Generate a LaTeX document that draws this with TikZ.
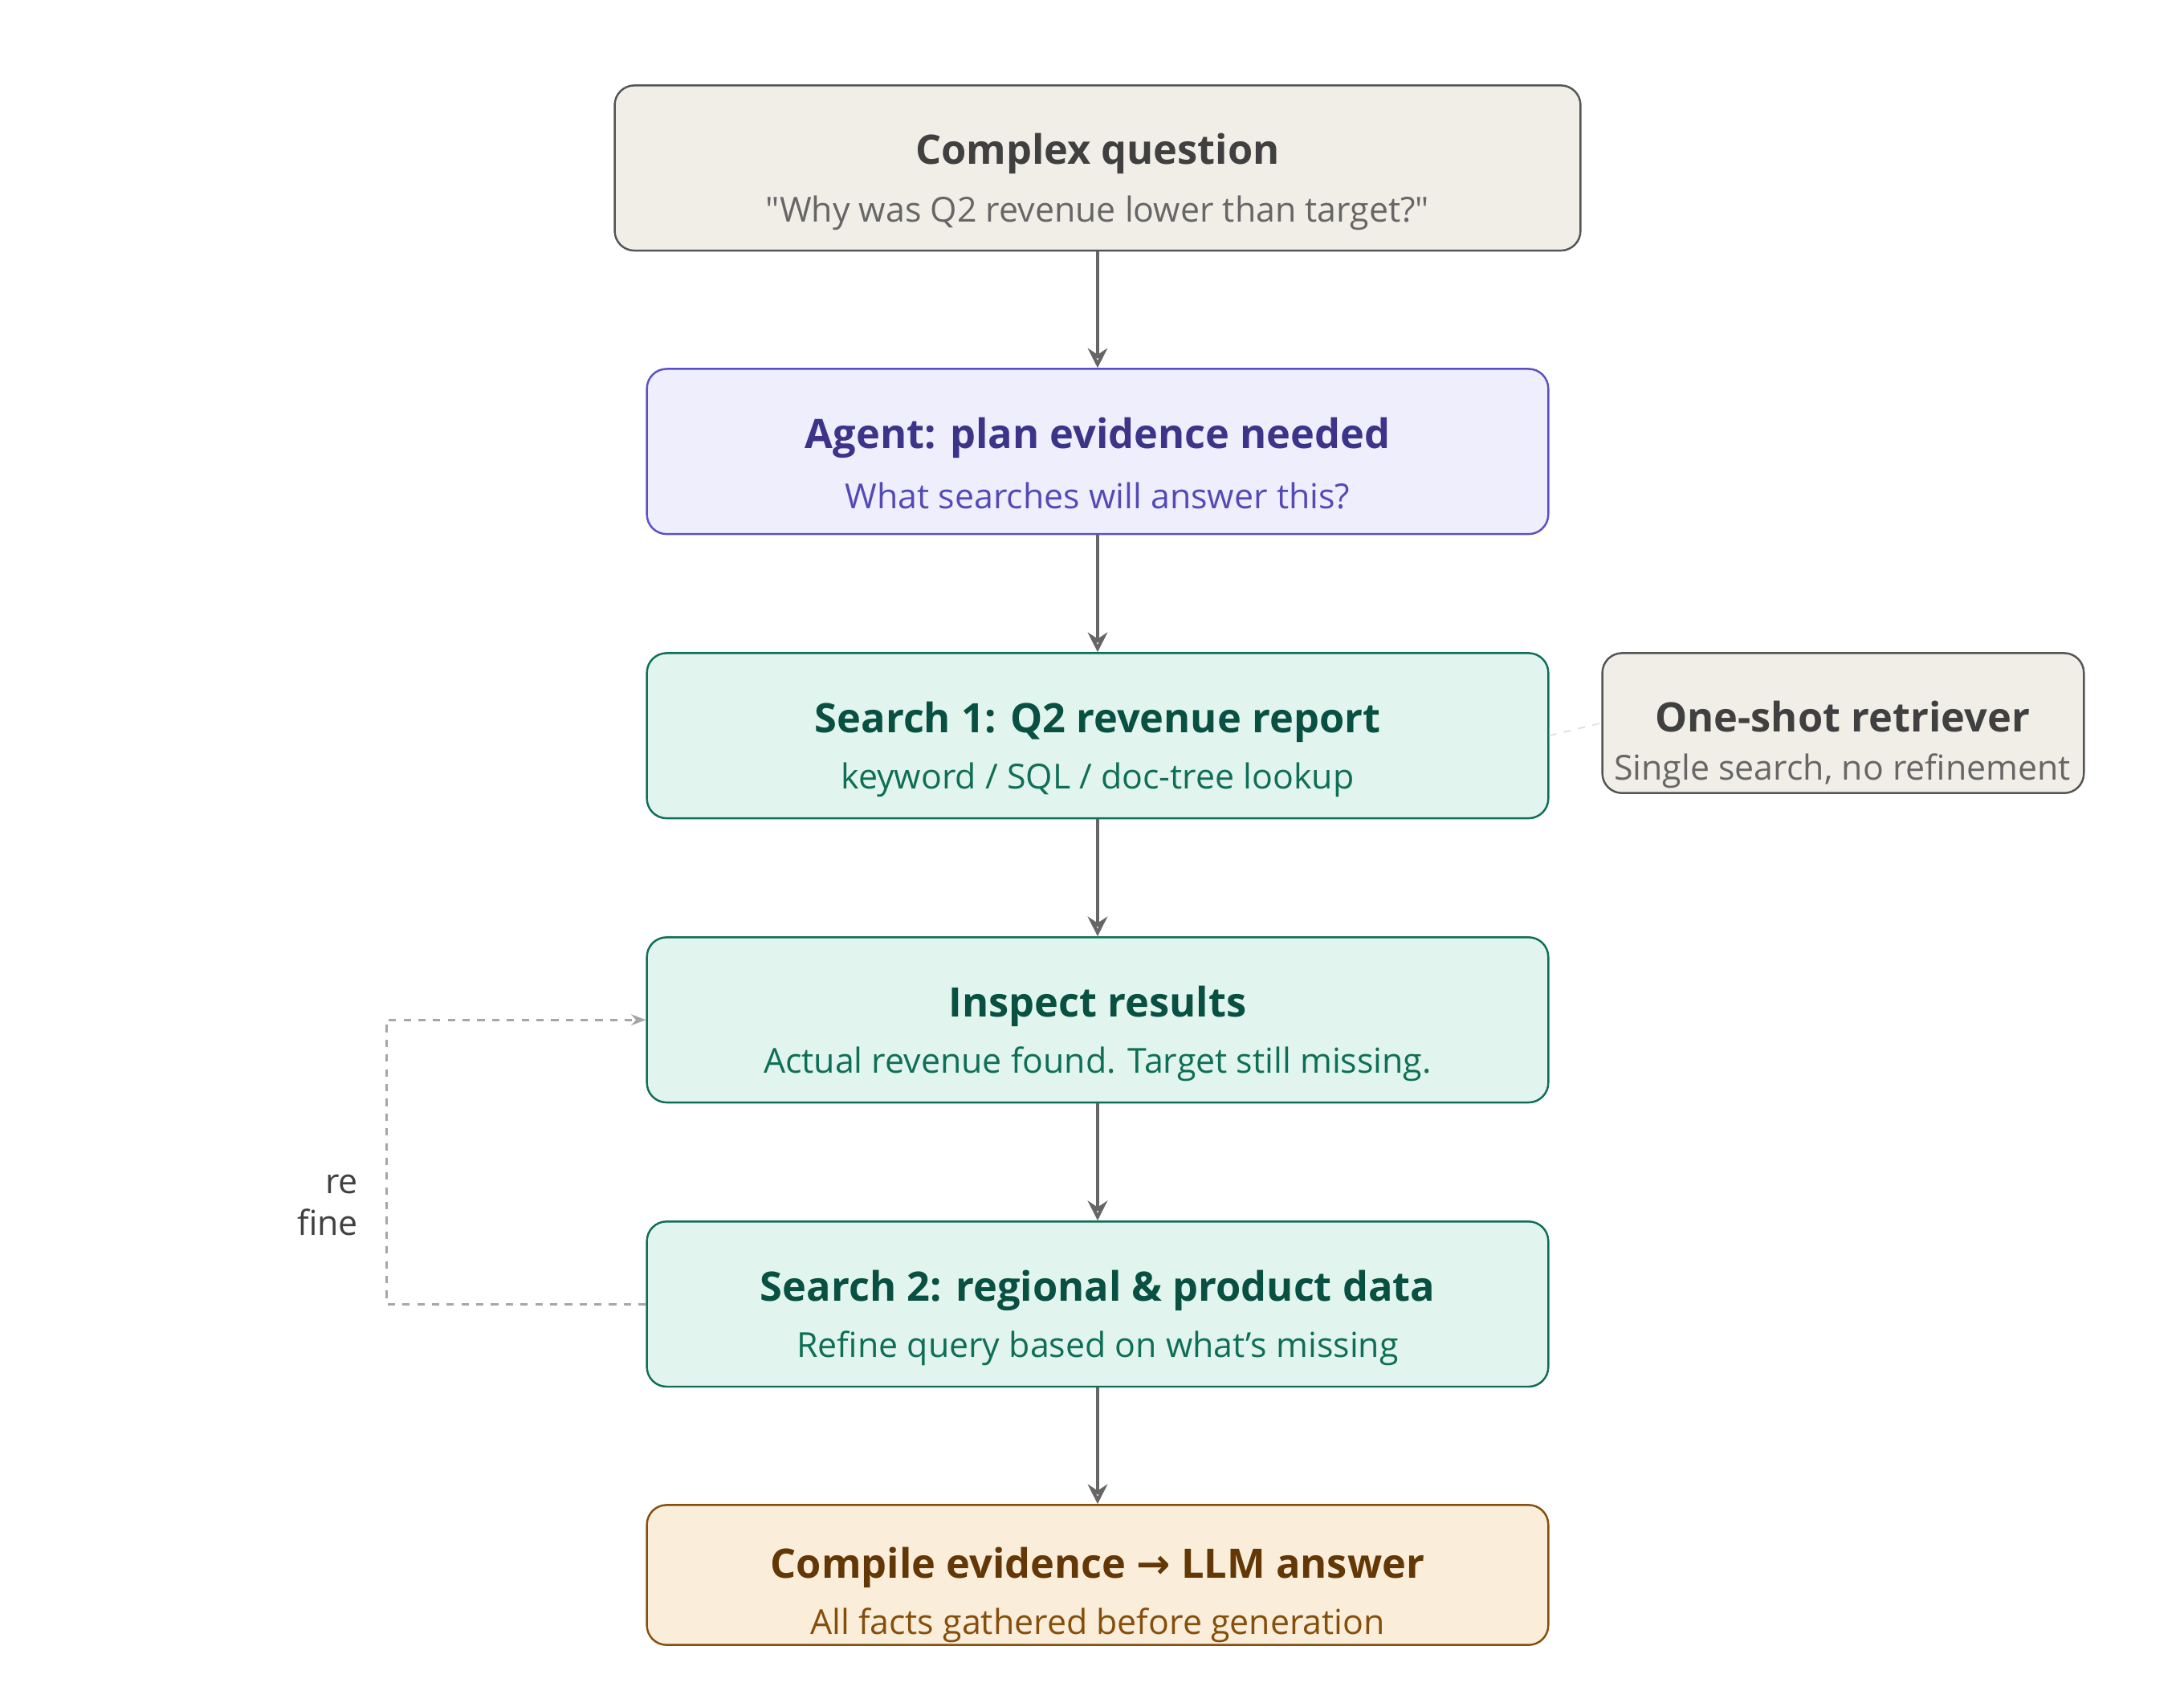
\documentclass[tikz,border=0pt]{standalone}
\usepackage{fontspec}
\setmainfont{Open Sans}
\newfontfamily\symfont{DejaVu Sans}
\usetikzlibrary{positioning}
\definecolor{qfill}{HTML}{F1EEE8}
\definecolor{qdraw}{HTML}{555555}
\definecolor{afill}{HTML}{EEEEFC}
\definecolor{adraw}{HTML}{5B4FC8}
\definecolor{atext}{HTML}{3C3489}
\definecolor{asub}{HTML}{534AB7}
\definecolor{sfill}{HTML}{E1F5EE}
\definecolor{sdraw}{HTML}{0F6E56}
\definecolor{stext}{HTML}{085041}
\definecolor{cfill}{HTML}{FAEEDA}
\definecolor{cdraw}{HTML}{854F0B}
\definecolor{ctext}{HTML}{633806}
\tikzset{
  box/.style={draw, rounded corners=8pt, line width=0.8pt, minimum width=12.88cm, minimum height=2.36cm},
  ttl/.style={font=\fontsize{16.5}{20}\selectfont\bfseries},
  sub/.style={font=\fontsize{14}{17}\selectfont},
  flow/.style={draw=black!60, line width=1.6pt, -{Stealth[length=8pt,width=8pt,open]}},
}
\usetikzlibrary{arrows.meta}
\begin{document}
\begin{tikzpicture}[x=0.02cm,y=-0.02cm]
    \useasboundingbox (0,0) rectangle (1560,1216);
    % Boxes
    \node[box, fill=qfill, draw=qdraw, minimum width=13.8cm] (quest) at (784,120) {};
    \node[box, fill=afill, draw=adraw] (agent) at (784,322.5) {};
    \node[box, fill=sfill, draw=sdraw] (srch1) at (784,525.5) {};
    \node[box, fill=sfill, draw=sdraw] (insp) at (784,728.5) {};
    \node[box, fill=sfill, draw=sdraw] (srch2) at (784,931.5) {};
    \node[box, fill=cfill, draw=cdraw, minimum height=2cm] (comp) at (784,1125) {};
    \node[box, fill=qfill, draw=qdraw, minimum width=6.88cm, minimum height=2cm] (oneshot) at (1316.5,516.5) {};

    % Texts
    \node[ttl, text=black!75] at (784,110) {Complex question};
    \node[sub, text=black!60] at (784,152) {\textquotedbl Why was Q2 revenue lower than target?\textquotedbl};
    \node[ttl, text=atext] at (784,313) {Agent: plan evidence needed};
    \node[sub, text=asub] at (784,354) {What searches will answer this?};
    \node[ttl, text=stext] at (784,516) {Search 1: Q2 revenue report};
    \node[sub, text=sdraw] at (784,557) {keyword / SQL / doc-tree lookup};
    \node[ttl, text=stext] at (784,719) {Inspect results};
    \node[sub, text=sdraw] at (784,760) {Actual revenue found. Target still missing.};
    \node[ttl, text=stext] at (784,922) {Search 2: regional \& product data};
    \node[sub, text=sdraw] at (784,963) {Refine query based on what's missing};
    \node[ttl, text=ctext] at (784,1120) {Compile evidence {\symfont\bfseries →} LLM answer};
    \node[sub, text=cdraw] at (784,1161) {All facts gathered before generation};
    \node[ttl, text=black!75] at (1316,512) {One-shot retriever};
    \node[sub, text=black!60] at (1316,551) {Single search, no refinement};

    % Connectors
    \draw[flow] (quest) -- (agent);
    \draw[flow] (agent) -- (srch1);
    \draw[flow] (srch1) -- (insp);
    \draw[flow] (insp) -- (srch2);
    \draw[flow] (srch2) -- (comp);
    \draw[black!12, dashed, line width=0.6pt] (srch1.east) -- (oneshot.west);
    \draw[black!35, dashed, line width=1pt, -{Stealth[length=6pt,open]}] (srch2.west) -- (276,931.5) -- (276,728.5) -- (insp.west);
    \node[sub, text=black!75, align=right, anchor=east] at (262,861) {re\\fine};
\end{tikzpicture}
\end{document}
